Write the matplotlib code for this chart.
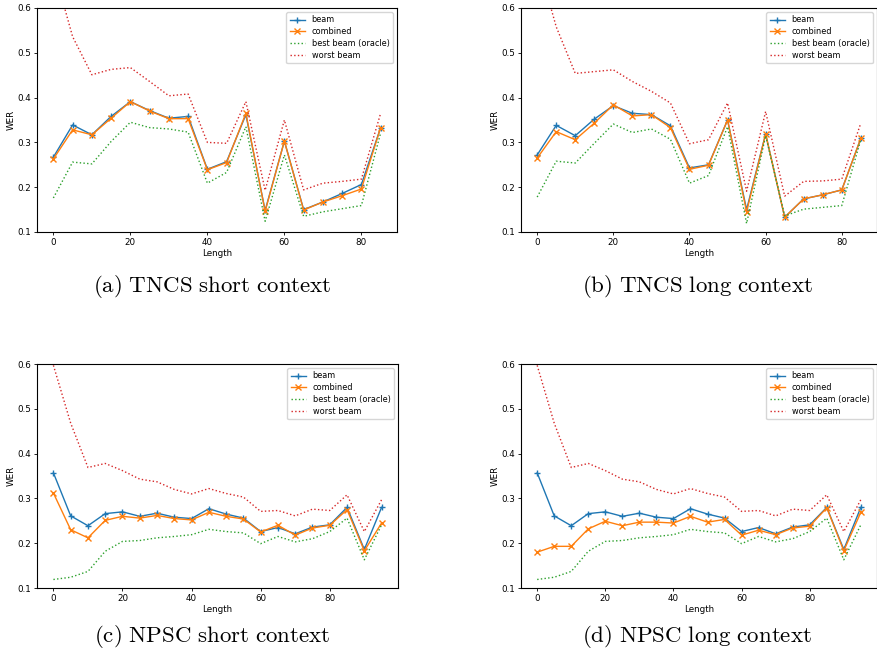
import numpy as np
import matplotlib
matplotlib.use('Agg')
import matplotlib.pyplot as plt

plt.rcParams['mathtext.fontset'] = 'cm'

# x positions (Length)
len_tncs = list(range(0, 90, 5))
len_npsc = list(range(0, 100, 5))

# TNCS short context
a_beam = [0.267, 0.339, 0.317, 0.358, 0.391, 0.371, 0.354, 0.358, 0.240, 0.257,
          0.362, 0.148, 0.303, 0.150, 0.167, 0.186, 0.206, 0.333]
a_comb = [0.263, 0.328, 0.317, 0.354, 0.391, 0.370, 0.353, 0.353, 0.239, 0.255,
          0.365, 0.146, 0.303, 0.149, 0.167, 0.181, 0.196, 0.333]
a_best = [0.176, 0.256, 0.252, 0.302, 0.345, 0.333, 0.330, 0.323, 0.209, 0.233,
          0.335, 0.124, 0.272, 0.135, 0.145, 0.152, 0.159, 0.321]
a_worst = [0.69, 0.536, 0.451, 0.463, 0.467, 0.436, 0.404, 0.408, 0.300, 0.298,
           0.391, 0.193, 0.350, 0.194, 0.209, 0.213, 0.218, 0.365]

# TNCS long context
b_beam = [0.272, 0.338, 0.315, 0.352, 0.382, 0.365, 0.362, 0.337, 0.243, 0.250,
          0.350, 0.150, 0.319, 0.133, 0.174, 0.183, 0.194, 0.309]
b_comb = [0.265, 0.324, 0.306, 0.343, 0.384, 0.359, 0.362, 0.333, 0.240, 0.249,
          0.350, 0.145, 0.319, 0.133, 0.174, 0.183, 0.194, 0.309]
b_best = [0.178, 0.258, 0.254, 0.298, 0.341, 0.322, 0.330, 0.307, 0.209, 0.226,
          0.335, 0.119, 0.315, 0.136, 0.151, 0.155, 0.159, 0.306]
b_worst = [0.71, 0.558, 0.454, 0.458, 0.462, 0.436, 0.414, 0.388, 0.297, 0.306,
           0.388, 0.191, 0.369, 0.180, 0.213, 0.214, 0.218, 0.343]

# NPSC (beam / best / worst same for both contexts)
n_beam = [0.357, 0.261, 0.239, 0.266, 0.270, 0.260, 0.267, 0.258, 0.255, 0.277,
          0.265, 0.256, 0.226, 0.235, 0.221, 0.236, 0.241, 0.280, 0.186, 0.280]
n_best = [0.119, 0.124, 0.137, 0.182, 0.204, 0.206, 0.212, 0.215, 0.219, 0.231,
          0.226, 0.223, 0.199, 0.215, 0.203, 0.210, 0.226, 0.256, 0.163, 0.241]
n_worst = [0.597, 0.468, 0.369, 0.378, 0.362, 0.343, 0.337, 0.320, 0.310, 0.322,
           0.311, 0.303, 0.271, 0.273, 0.261, 0.276, 0.273, 0.308, 0.226, 0.297]
c_comb = [0.312, 0.230, 0.212, 0.251, 0.260, 0.256, 0.262, 0.255, 0.252, 0.269,
          0.260, 0.254, 0.225, 0.240, 0.218, 0.234, 0.240, 0.275, 0.183, 0.245]
d_comb = [0.180, 0.193, 0.193, 0.232, 0.249, 0.239, 0.247, 0.247, 0.245, 0.260,
          0.247, 0.253, 0.218, 0.229, 0.219, 0.234, 0.238, 0.279, 0.183, 0.269]

captions = ['(a) TNCS short context', '(b) TNCS long context',
            '(c) NPSC short context', '(d) NPSC long context']

W, H = 878, 658
fig = plt.figure(figsize=(W / 100, H / 100), dpi=100)


def add_panel(l, r, t, b):
    return fig.add_axes([l / W, 1 - b / H, (r - l) / W, (b - t) / H])


panels = [
    (add_panel(37, 397, 8, 232), len_tncs, a_beam, a_comb, a_best, a_worst),
    (add_panel(521, 877, 8, 232), len_tncs, b_beam, b_comb, b_best, b_worst),
    (add_panel(37, 398, 364, 588), len_npsc, n_beam, c_comb, n_best, n_worst),
    (add_panel(521, 877, 364, 588), len_npsc, n_beam, d_comb, n_best, n_worst),
]

fs = 6.3
for ax, x, beam, comb, best, worst in panels:
    ax.plot(x, beam, marker='+', color='C0', lw=1.0, ms=4, label='beam')
    ax.plot(x, comb, marker='x', color='C1', lw=1.0, ms=4, label='combined')
    ax.plot(x, best, linestyle=':', color='C2', lw=1.0, label='best beam (oracle)')
    ax.plot(x, worst, linestyle=':', color='C3', lw=1.0, label='worst beam')
    ax.set_ylim(0.1, 0.6)
    ax.set_yticks([0.1, 0.2, 0.3, 0.4, 0.5, 0.6])
    ax.set_xlabel('Length', fontsize=fs, labelpad=2)
    ax.set_ylabel('WER', fontsize=fs, labelpad=1)
    ax.tick_params(labelsize=fs, length=2.5, width=0.6, pad=1.5)
    for s in ax.spines.values():
        s.set_linewidth(0.8)
    ax.legend(loc='upper right', fontsize=5.9, handlelength=1.9,
              borderpad=0.4, labelspacing=0.35, framealpha=0.8)

cap_pos = [(212, 286), (697, 286), (212, 637), (697, 637)]
for (cx, cy), txt in zip(cap_pos, captions):
    fig.text(cx / W, 1 - cy / H, r'$\mathrm{' + txt.replace(' ', r'\ ') + '}$',
             ha='center', va='center', fontsize=16.5)

fig.savefig('out.png', dpi=100)
